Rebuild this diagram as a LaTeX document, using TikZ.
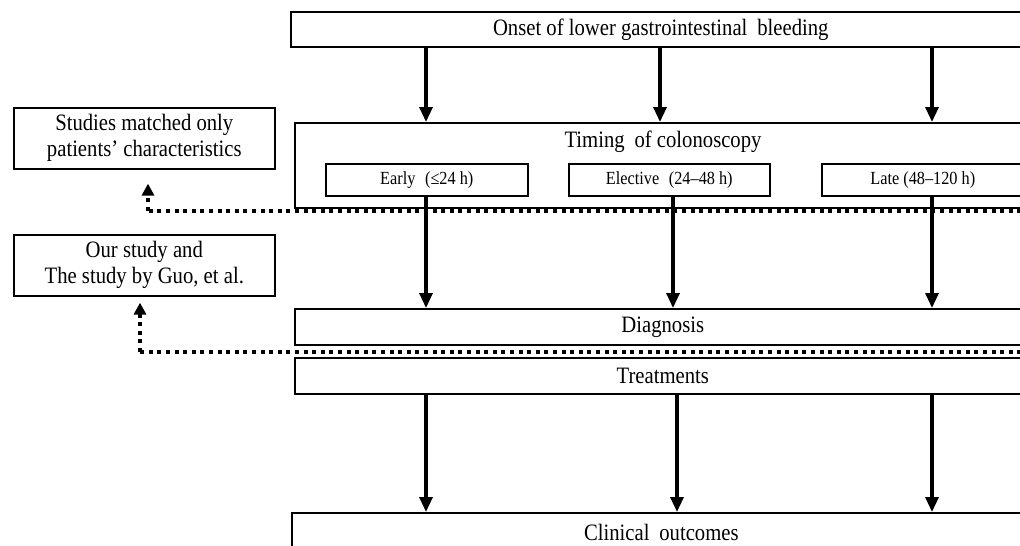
\documentclass[tikz,border=0pt]{standalone}
\usepackage{fontspec}
\setmainfont{Liberation Serif}[FakeStretch=0.88]
\usetikzlibrary{arrows.meta}
\tikzset{
  box/.style={draw, line width=1.6pt, inner sep=0pt, anchor=north west, align=center, font=\fontsize{23.5}{26}\selectfont},
  subbox/.style={box, font=\fontsize{18.5}{20}\selectfont},
  arr/.style={line width=3.2pt, -{Triangle[length=15pt,width=13pt]}},
  dotarr/.style={line width=3.5pt, dash pattern=on 4pt off 4.6pt, -{Triangle[length=12pt,width=12pt]}},
  dotline/.style={line width=3.5pt, dash pattern=on 4pt off 4.6pt},
}
\begin{document}
\begin{tikzpicture}[x=1pt,y=-1pt]
\useasboundingbox (0,0) rectangle (1020,546);
\clip (0,0) rectangle (1020,546);
% main column boxes
\node[box, minimum width=740pt, minimum height=35pt] (onset) at (290,11) {Onset of lower gastrointestinal\hspace{0.2em} bleeding};
\node[box, minimum width=736pt, minimum height=85pt] (timing) at (294,122) {};
\node[font=\fontsize{23.5}{26}\selectfont] (ttl) at (663,142) {Timing\hspace{0.2em} of colonoscopy};
\node[subbox, minimum width=202pt, minimum height=32pt] (early) at (325,163) {Early\hspace{0.3em} (≤24 h)};
\node[subbox, minimum width=201pt, minimum height=32pt] (elective) at (568,163) {Elective\hspace{0.3em} (24–48 h)};
\node[subbox, minimum width=202pt, minimum height=32pt] (late) at (821,163) {Late (48–120 h)};
\node[box, minimum width=736pt, minimum height=36pt] (diag) at (294,308) {Diagnosis};
\node[box, minimum width=736pt, minimum height=36pt] (treat) at (294,357) {Treatments};
\node[box, minimum width=739pt, minimum height=40pt] (clin) at (291,512) {Clinical\hspace{0.2em} outcomes};
% left boxes
\node[box, minimum width=261pt, minimum height=61pt] (study1) at (13,107) {Studies matched only\\patients’ characteristics};
\node[box, minimum width=261pt, minimum height=61pt] (study2) at (13,234) {Our study and\\The study by Guo, et al.};
% coordinates for dotted lines
\coordinate (r1) at (1030,211);
\coordinate (r2) at (1030,352);
\coordinate (c1) at (148,211);
\coordinate (c2) at (140,352);
% dotted connectors
\draw[dotline] (r1) -- (c1);
\draw[dotarr, shorten >=14pt] (c1) -- (c1 |- study1.south);
\draw[dotline] (r2) -- (c2);
\draw[dotarr, shorten >=6pt] (c2) -- (c2 |- study2.south);
% arrows onset -> timing
\foreach \x in {426,660,932}{
  \draw[arr] (onset.south -| \x,0) -- (timing.north -| \x,0);
}
% arrows subboxes -> diagnosis
\draw[arr] (early.south -| 426,0) -- (diag.north -| 426,0);
\draw[arr] (elective.south -| 673,0) -- (diag.north -| 673,0);
\draw[arr] (late.south -| 932,0) -- (diag.north -| 932,0);
% arrows treatments -> clinical outcomes
\foreach \x in {426,677,932}{
  \draw[arr] (treat.south -| \x,0) -- (clin.north -| \x,0);
}
\end{tikzpicture}
\end{document}
